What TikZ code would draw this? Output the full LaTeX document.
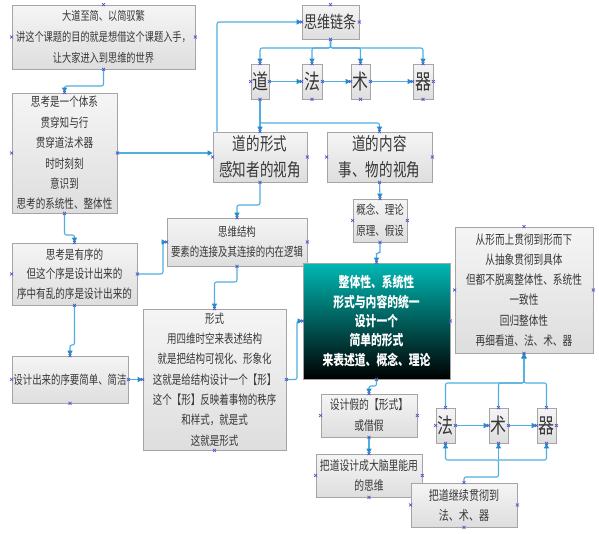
\documentclass[tikz,border=0pt]{standalone}
\usepackage{fontspec}
\setmainfont{Noto Sans CJK SC}[FakeStretch=0.76]
\usetikzlibrary{arrows.meta,calc}
\definecolor{conncol}{RGB}{80,175,222}
\definecolor{tipcol}{RGB}{35,140,200}
\definecolor{boxline}{RGB}{165,165,165}
\definecolor{boxtxt}{RGB}{55,55,55}
\definecolor{markcol}{RGB}{75,85,205}
\definecolor{tealtop}{RGB}{0,185,180}
\begin{document}
\begin{tikzpicture}[x=1pt,y=-1pt,
  box/.style={draw=boxline, line width=0.8pt, top color=white!96!black, bottom color=white!87!black, text=boxtxt, align=center, inner sep=0pt},
  fs/.style 2 args={font=\fontsize{#1}{#2}\selectfont},
  sz/.style 2 args={minimum width=#1pt, minimum height=#2pt},
  conn/.style={draw=conncol, line width=1.1pt, rounded corners=2pt, -{Triangle[length=5pt,width=5pt,color=tipcol]}},
  ln/.style={draw=conncol, line width=1.1pt, rounded corners=2pt},
  teal/.style={draw=boxline, line width=0.8pt, top color=tealtop, bottom color=black, text=white, align=center, inner sep=0pt, font=\fontsize{14.2}{19.3}\selectfont\bfseries}
]
\useasboundingbox (0,0) rectangle (599,533);
\fill[white] (0,0) rectangle (599,533);

% nodes
\node[box, sz={183}{64}, fs={12.1}{21}] (A) at (103.5,37) {大道至简、以简驭繁\\讲这个课题的目的就是想借这个课题入手，\\让大家进入到思维的世界};
\node[box, sz={57}{34}, fs={17.2}{18}] (B) at (330.5,22) {思维链条};
\node[box, sz={18}{35}, fs={21}{22}] (C1) at (260,81.5) {道};
\node[box, sz={20}{35}, fs={21}{22}] (C2) at (312,81.5) {法};
\node[box, sz={19}{35}, fs={21}{22}] (C3) at (360.5,81.5) {术};
\node[box, sz={20}{35}, fs={21}{22}] (C4) at (423,81.5) {器};
\node[box, sz={94}{50}, fs={17.8}{26}] (D) at (260,157) {道的形式\\感知者的视角};
\node[box, sz={105}{50}, fs={17.8}{26}] (E) at (379.5,157) {道的内容\\事、物的视角};
\node[box, sz={54}{43}, fs={12.5}{21}] (F) at (380,220.5) {概念、理论\\原理、假设};
\node[box, sz={105}{120}, fs={12.6}{20.4}] (G) at (64.5,153) {思考是一个体系\\贯穿知与行\\贯穿道法术器\\时时刻刻\\意识到\\思考的系统性、整体性};
\node[box, sz={125}{62}, fs={12.6}{19.6}] (H) at (74.5,274) {思考是有序的\\但这个序是设计出来的\\序中有乱的序是设计出来的};
\node[box, sz={140}{48}, fs={12.4}{20}] (I) at (237,242) {思维结构\\要素的连接及其连接的内在逻辑};
\node[box, sz={143}{141}, fs={12.5}{20.3}] (J) at (214.5,379.5) {形式\\用四维时空来表述结构\\就是把结构可视化、形象化\\这就是给结构设计一个【形】\\这个【形】反映着事物的秩序\\和样式，就是式\\这就是形式};
\node[box, sz={116}{47}, fs={12.4}{20}] (K) at (70,379.5) {设计出来的序要简单、简洁};
\node[teal, sz={147}{116}] (T) at (376.5,321) {整体性、系统性\\形式与内容的统一\\设计一个\\简单的形式\\来表述道、概念、理论};
\node[box, sz={138}{126}, fs={12.7}{20.2}] (L) at (524,290) {从形而上贯彻到形而下\\从抽象贯彻到具体\\但都不脱离整体性、系统性\\一致性\\回归整体性\\再细看道、法、术、器};
\node[box, sz={19}{35}, fs={21}{22}] (M1) at (445.5,425.5) {法};
\node[box, sz={19}{35}, fs={21}{22}] (M2) at (498.5,425.5) {术};
\node[box, sz={19}{35}, fs={21}{22}] (M3) at (546.5,425.5) {器};
\node[box, sz={96}{43}, fs={12.9}{21}] (N) at (369,415.5) {设计假的【形式】\\或借假};
\node[box, sz={106}{43}, fs={12.9}{20}] (O) at (369,475.5) {把道设计成大脑里能用\\的思维};
\node[box, sz={106}{44}, fs={13.2}{20}] (P) at (464,505) {把道继续贯彻到\\法、术、器};

% connectors
\draw[conn] (A.south) -- (A.south |- 0,86) -| (G.north);
\draw[conn] (D.north -| 217,0) |- (B.west);
\draw[conn] (B.south) -- (B.south |- 0,48) -| (C1.north);
\draw[conn] (B.south) -- (B.south |- 0,48) -| (C2.north);
\draw[conn] (B.south) -- (B.south |- 0,48) -| (C3.north);
\draw[conn] (B.south) -- (B.south |- 0,48) -| (C4.north);
\draw[conn] (C1.east) -- (C2.west);
\draw[conn] (C2.east) -- (C3.west);
\draw[conn] (C3.east) -- (C4.west);
\draw[conn] (C1.south) -- (D.north);
\draw[conn] (C1.south) -- (C1.south |- 0,123) -| (E.north);
\draw[conn] (G.east) -- (G.east -| D.west);
\draw[conn] (E.south) -- (F.north);
\draw[conn] (F.south) -- (F.south |- 0,253) -| (T.north);
\draw[conn] (D.south) -- (D.south |- 0,205) -| (I.north);
\draw[conn] (G.south) -- (G.south |- 0,235) -| (H.north);
\draw[conn] (H.east) -- (H.east -| 163,0) |- (I.west);
\draw[conn] (I.south) -- (I.south |- 0,282) -| (J.north);
\draw[conn] (H.south) -- (H.south |- 0,345) -| (K.north);
\draw[conn] (K.east) -- (J.west);
\draw[conn] (J.east) -- (J.east -| 297,0) |- (T.west);
\draw[conn] (T.south) -- (T.south |- 0,386) -| (N.north);
\draw[conn] (N.south) -- (O.north);
\draw[conn] (M1.north) |- (L.south |- 0,383) -- (L.south);
\draw[conn] (M2.north) |- (L.south |- 0,383) -- (L.south);
\draw[conn] (M3.north) |- (L.south |- 0,383) -- (L.south);
\draw[conn] (M1.east) -- (M2.west);
\draw[conn] (M2.east) -- (M3.west);
\draw[conn] (P.north) -- (P.north |- 0,477) -| (M2.south |- 0,460) -| (M1.south);
\draw[conn] (M2.south |- 0,460) -| (M3.south);
\draw[conn] (M2.south |- 0,460) -- (M2.south);

% connection markers
\foreach \n in {A,B,C1,C2,C3,C4,D,E,F,G,H,I,J,K,T,L,M1,M2,M3,N,O,P}{
  \foreach \a in {north,south,east,west}{
    \draw[markcol, line width=0.6pt] (\n.\a) ++(-1.5,-1.5) -- ++(3,3) ++(-3,0) -- ++(3,-3);
  }
}
\end{tikzpicture}
\end{document}
